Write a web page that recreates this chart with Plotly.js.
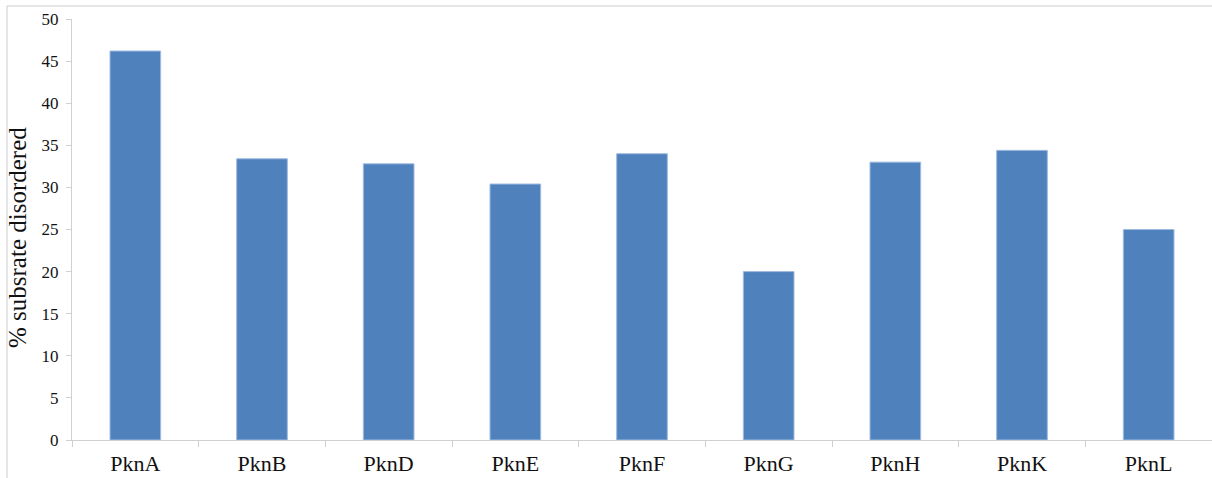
<!DOCTYPE html>
<html>
<head>
<meta charset="utf-8">
<script src="https://cdn.plot.ly/plotly-3.0.1.min.js"></script>
<style>
  html, body { margin: 0; padding: 0; background: #ffffff; }
  #chart { width: 1212px; height: 478px; }
</style>
</head>
<body>
<div id="chart"></div>
<script>
// Kinases and the share of their substrates that are disordered
const kinases = ['PknA', 'PknB', 'PknD', 'PknE', 'PknF', 'PknG', 'PknH', 'PknK', 'PknL'];
const disorderedPct = [46.2, 33.4, 32.8, 30.4, 34.0, 20.0, 33.0, 34.4, 25.0];
const yTicks = [0, 5, 10, 15, 20, 25, 30, 35, 40, 45, 50];
const yTitle = '% subsrate disordered';

const W = 1212, H = 478;
const margin = { l: 72, r: 0, t: 19, b: 38 };
const plotW = W - margin.l - margin.r;
const plotH = H - margin.t - margin.b;

// frame around the whole chart, expressed in paper units
const fx0 = (7 - margin.l) / plotW;
const fx1 = (W + 5 - margin.l) / plotW;
const fy1 = (H - margin.b - 6) / plotH;
const fy0 = -(margin.b + 20) / plotH;

// y-axis title placed as a rotated annotation (pixel position -> paper units)
const titleX = (18 - margin.l) / plotW;
const titleY = (H - margin.b - 238) / plotH;

const axisGrey = '#d0d0d0';
const serif = '"Liberation Serif", "Times New Roman", serif';

const trace = {
  type: 'bar',
  x: kinases,
  y: disorderedPct,
  marker: { color: '#4f81bd', line: { color: '#9fbbe0', width: 1 } },
  hoverinfo: 'x+y'
};

const layout = {
  width: W,
  height: H,
  margin: margin,
  paper_bgcolor: '#ffffff',
  plot_bgcolor: '#ffffff',
  showlegend: false,
  bargap: 0.6,
  font: { family: serif, color: '#111111' },
  xaxis: {
    type: 'category',
    showgrid: false,
    showline: true,
    linecolor: axisGrey,
    linewidth: 1,
    ticks: 'outside',
    tickson: 'boundaries',
    ticklen: 6,
    tickcolor: axisGrey,
    ticklabelstandoff: 4,
    tickfont: { family: serif, size: 22, color: '#111111' },
    zeroline: false,
    fixedrange: true
  },
  yaxis: {
    range: [0, 50],
    tickvals: yTicks,
    ticktext: yTicks.map(String),
    showgrid: false,
    showline: true,
    linecolor: axisGrey,
    linewidth: 1,
    ticks: 'outside',
    ticklen: 5,
    tickcolor: axisGrey,
    ticklabelstandoff: 4,
    tickfont: { family: serif, size: 17, color: '#111111' },
    zeroline: false,
    fixedrange: true
  },
  annotations: [{
    text: yTitle,
    xref: 'paper', yref: 'paper',
    x: titleX, y: titleY,
    xanchor: 'center', yanchor: 'middle',
    textangle: -90,
    showarrow: false,
    font: { family: serif, size: 25, color: '#111111' }
  }],
  shapes: [{
    type: 'rect',
    xref: 'paper', yref: 'paper',
    x0: fx0, x1: fx1, y0: fy0, y1: fy1,
    line: { color: '#cccccc', width: 1 },
    fillcolor: 'rgba(0,0,0,0)',
    layer: 'below'
  }]
};

Plotly.newPlot('chart', [trace], layout, { displayModeBar: false, staticPlot: true });
</script>
</body>
</html>
